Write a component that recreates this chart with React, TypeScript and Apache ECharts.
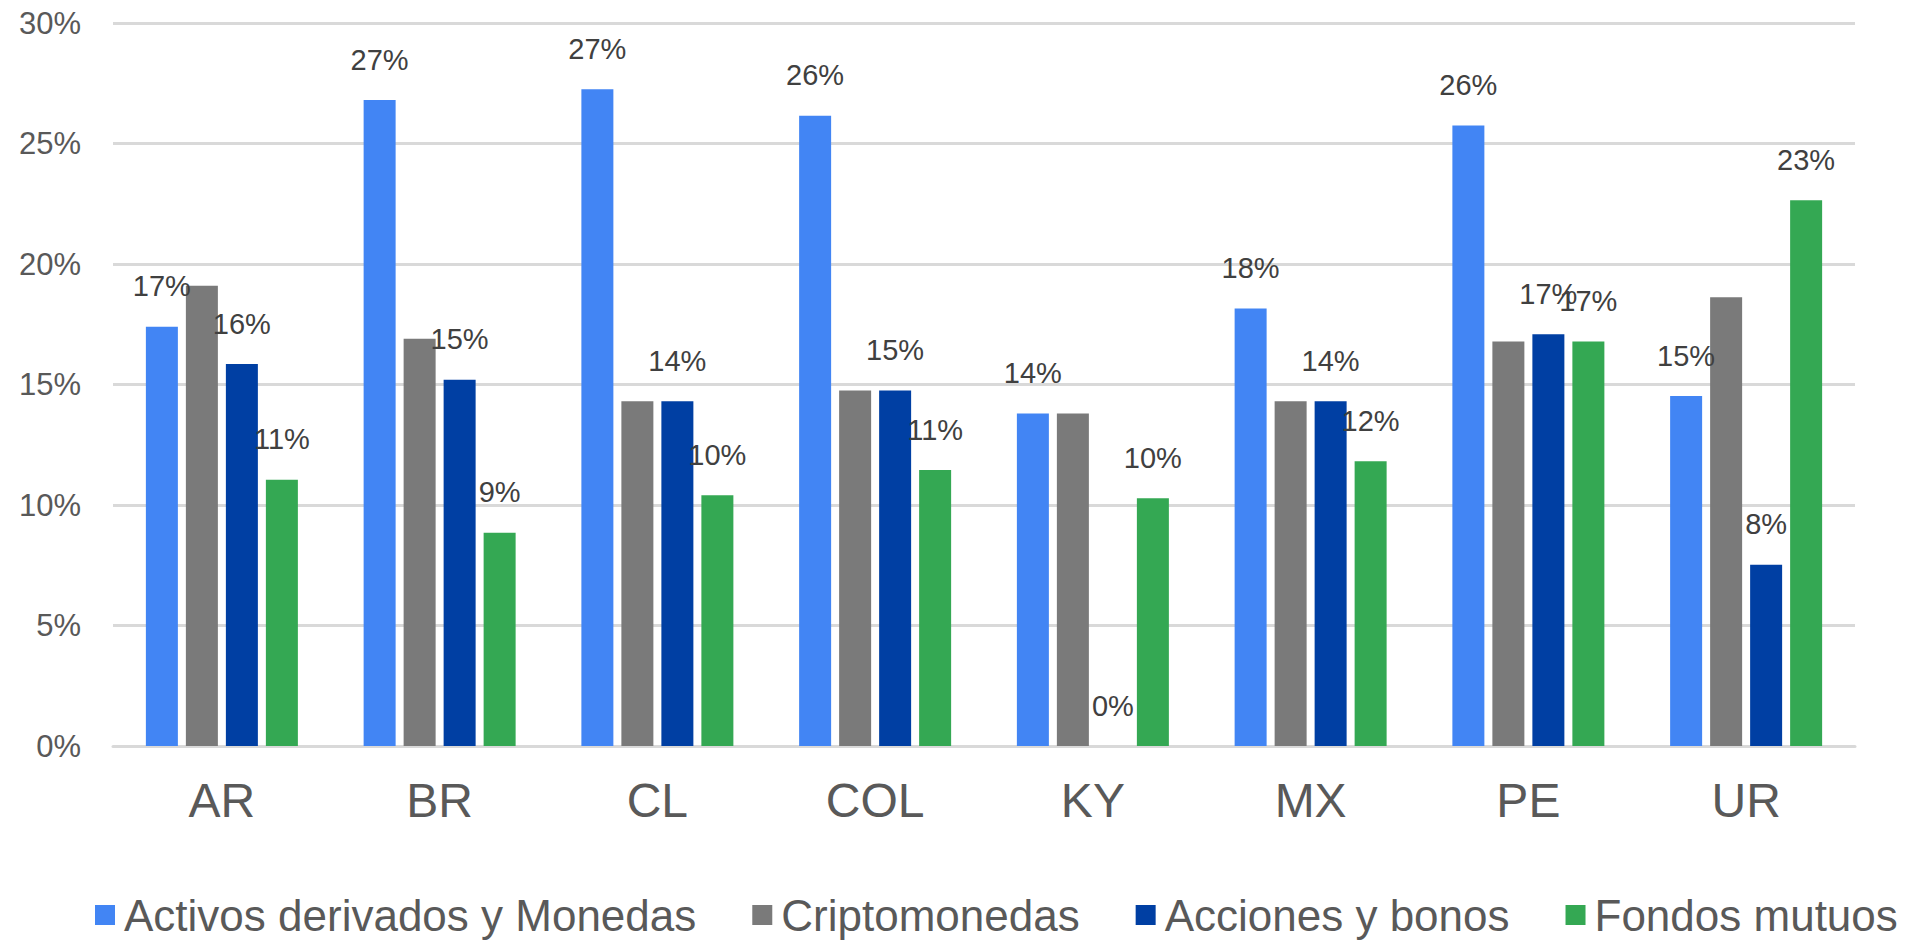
import React, { useEffect, useRef } from "react";
import * as echarts from "echarts";

const categories = ["AR", "BR", "CL", "COL", "KY", "MX", "PE", "UR"];
const seriesNames = ["Activos derivados y Monedas", "Criptomonedas", "Acciones y bonos", "Fondos mutuos"];
const activosDerivados = [17.4, 26.8, 27.25, 26.15, 13.8, 18.15, 25.75, 14.52];
const criptomonedas = [19.1, 16.9, 14.3, 14.75, 13.8, 14.3, 16.78, 18.62];
const accionesBonos = [15.85, 15.2, 14.3, 14.75, 0, 14.3, 17.08, 7.52];
const fondosMutuos = [11.05, 8.85, 10.4, 11.45, 10.28, 11.82, 16.78, 22.65];
const yTicks = { min: 0, max: 30, interval: 5 };

const colors = ["#4285F4", "#7A7A7A", "#003FA3", "#34A853"];
const FONT = "'Liberation Sans', Arial, sans-serif";

export default function App() {
  const ref = useRef<HTMLDivElement>(null);
  useEffect(() => {
    if (!ref.current) return;
    const chart = echarts.init(ref.current, null, { renderer: "svg" });
    const dataSets = [activosDerivados, criptomonedas, accionesBonos, fondosMutuos];
    const showLabel = [true, false, true, true];
    chart.setOption({
      animation: false,
      backgroundColor: "#ffffff",
      textStyle: { fontFamily: FONT },
      color: colors,
      grid: { left: 113, right: 59, top: 23, bottom: 199, containLabel: false },
      legend: {
        left: 90,
        top: 888,
        itemWidth: 20,
        itemHeight: 20,
        itemGap: 56,
        icon: "rect",
        textStyle: { fontSize: 44, color: "#595959", fontFamily: FONT, padding: [0, 0, 0, 4] },
        data: seriesNames,
      },
      xAxis: {
        type: "category",
        data: categories,
        axisLine: { show: true, lineStyle: { color: "#d9d9d9", width: 3 } },
        axisTick: { show: false },
        axisLabel: { fontSize: 48, color: "#595959", margin: 30, fontFamily: FONT },
      },
      yAxis: {
        type: "value",
        min: yTicks.min,
        max: yTicks.max,
        interval: yTicks.interval,
        axisLine: { show: false },
        axisTick: { show: false },
        splitLine: { lineStyle: { color: "#d9d9d9", width: 3 } },
        axisLabel: { fontSize: 31, color: "#595959", margin: 32, formatter: "{value}%", fontFamily: FONT },
      },
      series: dataSets.map((d, i) => ({
        name: seriesNames[i],
        type: "bar",
        data: d,
        barWidth: 32,
        barGap: "25%",
        itemStyle: { color: colors[i] },
        label: {
          show: showLabel[i],
          position: "top",
          distance: 26,
          fontSize: 29,
          color: "#404040",
          fontFamily: FONT,
          formatter: (p: any) => Math.round(p.value) + "%",
        },
      })),
    });
    return () => chart.dispose();
  }, []);
  return (
    <div
      ref={ref}
      style={{ position: "fixed", left: 0, top: 0, width: "1914px", height: "945px", background: "#fff" }}
    />
  );
}
